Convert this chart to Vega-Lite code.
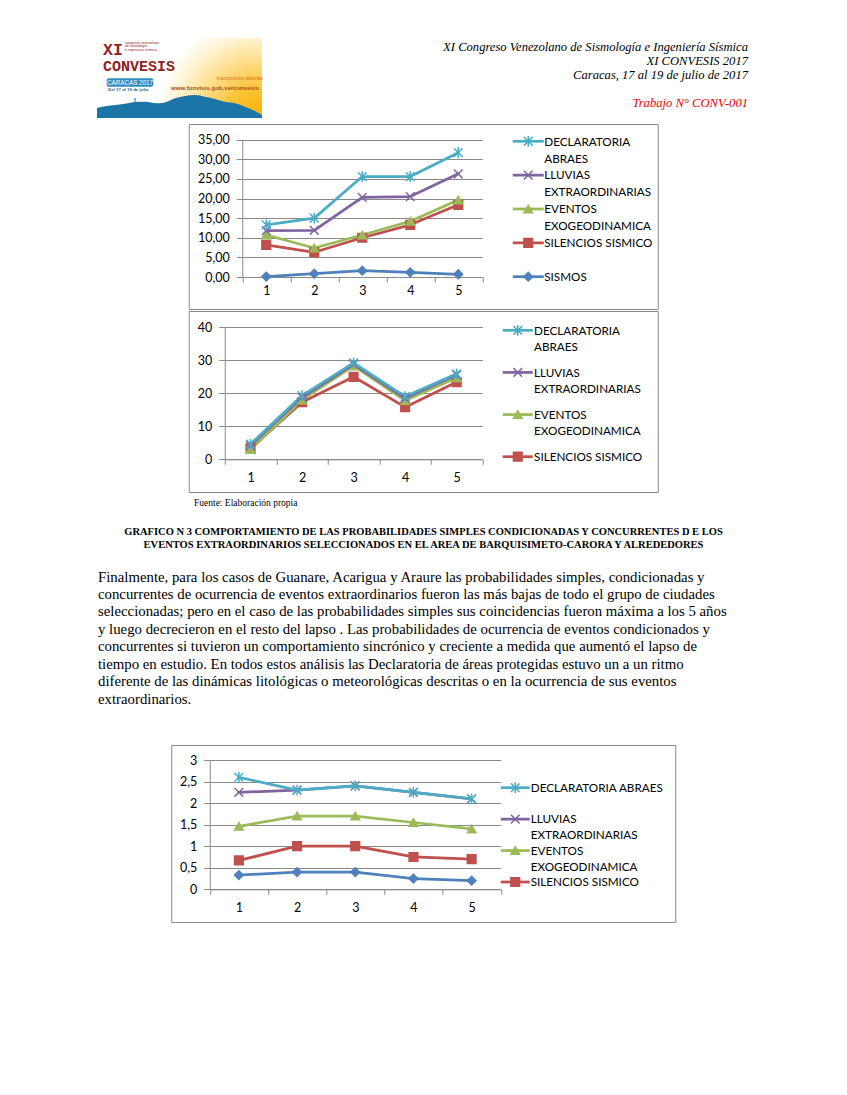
{
  "$schema": "https://vega.github.io/schema/vega-lite/v6.json",
  "background": "white",
  "padding": 0,
  "spacing": 0,
  "center": true,
  "config": {
    "view": {"stroke": null},
    "axis": {"domainColor": "#898989", "tickColor": "#898989", "gridColor": "#898989", "domainWidth": 1, "gridWidth": 1, "tickWidth": 1, "labelFont": "Lato", "labelFontSize": 12.5, "labelColor": "#000000", "title": null}
  },
  "vconcat": [
    {
      "width": 847,
      "height": 123,
      "layer": [
        {
          "layer": [
            {
              "data": {"values": [{"parte": "fondo"}]},
              "mark": {"type": "rect", "color": {"gradient": "radial", "x1": 0.96, "y1": 0.74, "r1": 0, "x2": 0.96, "y2": 0.74, "r2": 0.6, "stops": [{"offset": 0, "color": "#f5b000"}, {"offset": 0.3, "color": "#fac53a"}, {"offset": 0.55, "color": "#fddc85"}, {"offset": 0.8, "color": "#fff2cf"}, {"offset": 1, "color": "#ffffff"}]}},
              "encoding": {
                "x": {"datum": 0, "type": "quantitative", "scale": {"domain": [0, 165], "range": [97, 262], "nice": false}, "axis": null},
                "x2": {"datum": 165},
                "y": {"datum": 0, "type": "quantitative", "scale": {"domain": [0, 80], "range": [118, 38], "nice": false}, "axis": null},
                "y2": {"datum": 80}
              }
            },
            {
              "data": {"values": [
                {"d": 0, "alt": 9.5}, {"d": 1, "alt": 10.3}, {"d": 18, "alt": 13}, {"d": 31, "alt": 14.7}, {"d": 38, "alt": 16},
                {"d": 48, "alt": 16.3}, {"d": 60, "alt": 14.7}, {"d": 70, "alt": 16.3}, {"d": 78, "alt": 19.7}, {"d": 88, "alt": 22},
                {"d": 98, "alt": 23}, {"d": 108, "alt": 21.3}, {"d": 118, "alt": 19}, {"d": 128, "alt": 16.3}, {"d": 138, "alt": 14.7},
                {"d": 148, "alt": 11.3}, {"d": 158, "alt": 7}, {"d": 165, "alt": 3}
              ]},
              "mark": {"type": "area", "color": "#1b75a6", "interpolate": "monotone", "opacity": 1},
              "encoding": {
                "x": {"field": "d", "type": "quantitative", "scale": {"domain": [0, 165], "range": [97, 262], "nice": false}, "axis": null},
                "y": {"field": "alt", "type": "quantitative", "scale": {"domain": [0, 80], "range": [118, 38], "nice": false}, "axis": null},
                "y2": {"datum": 0}
              }
            },
            {
              "data": {"values": [{"parte": "antena"}]},
              "mark": {"type": "rule", "color": "#1b75a6", "strokeWidth": 1},
              "encoding": {
                "x": {"datum": 38, "type": "quantitative", "scale": {"domain": [0, 165], "range": [97, 262], "nice": false}, "axis": null},
                "y": {"datum": 15, "type": "quantitative", "scale": {"domain": [0, 80], "range": [118, 38], "nice": false}, "axis": null},
                "y2": {"datum": 20}
              }
            },
            {
              "data": {"values": [{"parte": "caja"}]},
              "mark": {"type": "rect", "color": "#2f8cbf", "cornerRadius": 2},
              "encoding": {
                "x": {"datum": 9.7, "type": "quantitative", "scale": {"domain": [0, 165], "range": [97, 262], "nice": false}, "axis": null},
                "x2": {"datum": 56.3},
                "y": {"datum": 31.3, "type": "quantitative", "scale": {"domain": [0, 80], "range": [118, 38], "nice": false}, "axis": null},
                "y2": {"datum": 39.7}
              }
            },
            {
              "data": {"values": [{"t": "CARACAS 2017"}]},
              "mark": {"type": "text", "align": "center", "baseline": "alphabetic", "font": "Liberation Sans", "fontSize": 6.3, "color": "#ffffff"},
              "encoding": {
                "x": {"datum": 33, "type": "quantitative", "scale": {"domain": [0, 165], "range": [97, 262], "nice": false}, "axis": null},
                "y": {"datum": 33.2, "type": "quantitative", "scale": {"domain": [0, 80], "range": [118, 38], "nice": false}, "axis": null},
                "text": {"field": "t"}
              }
            },
            {
              "data": {"values": [{"t": "XI"}]},
              "mark": {"type": "text", "align": "left", "baseline": "alphabetic", "font": "Liberation Mono", "fontWeight": "bold", "fontSize": 16.5, "color": "#8e2323"},
              "encoding": {
                "x": {"datum": 6, "type": "quantitative", "scale": {"domain": [0, 165], "range": [97, 262], "nice": false}, "axis": null},
                "y": {"datum": 63, "type": "quantitative", "scale": {"domain": [0, 80], "range": [118, 38], "nice": false}, "axis": null},
                "text": {"field": "t"}
              }
            },
            {
              "data": {"values": [{"t": "CONVESIS"}]},
              "mark": {"type": "text", "align": "left", "baseline": "alphabetic", "font": "Liberation Mono", "fontWeight": "bold", "fontSize": 15, "color": "#8e2323"},
              "encoding": {
                "x": {"datum": 6, "type": "quantitative", "scale": {"domain": [0, 165], "range": [97, 262], "nice": false}, "axis": null},
                "y": {"datum": 47, "type": "quantitative", "scale": {"domain": [0, 80], "range": [118, 38], "nice": false}, "axis": null},
                "text": {"field": "t"}
              }
            },
            {
              "data": {"values": [{"t": "congreso venezolano\nde sismología\ne ingeniería sísmica"}]},
              "mark": {"type": "text", "align": "left", "baseline": "alphabetic", "font": "Liberation Sans", "fontSize": 3.6, "lineBreak": "\n", "lineHeight": 3.7, "color": "#8e2323"},
              "encoding": {
                "x": {"datum": 28, "type": "quantitative", "scale": {"domain": [0, 165], "range": [97, 262], "nice": false}, "axis": null},
                "y": {"datum": 74.5, "type": "quantitative", "scale": {"domain": [0, 80], "range": [118, 38], "nice": false}, "axis": null},
                "text": {"field": "t"}
              }
            },
            {
              "data": {"values": [{"t": "Del 17 al 19 de julio"}]},
              "mark": {"type": "text", "align": "left", "baseline": "alphabetic", "font": "Liberation Sans", "fontWeight": "bold", "fontSize": 4.4, "color": "#1e5f8a"},
              "encoding": {
                "x": {"datum": 11, "type": "quantitative", "scale": {"domain": [0, 165], "range": [97, 262], "nice": false}, "axis": null},
                "y": {"datum": 27.5, "type": "quantitative", "scale": {"domain": [0, 80], "range": [118, 38], "nice": false}, "axis": null},
                "text": {"field": "t"}
              }
            },
            {
              "data": {"values": [{"t": "inscripciones abiertas"}]},
              "mark": {"type": "text", "align": "left", "baseline": "alphabetic", "font": "Liberation Sans", "fontSize": 4.8, "color": "#e0701c"},
              "encoding": {
                "x": {"datum": 119.7, "type": "quantitative", "scale": {"domain": [0, 165], "range": [97, 262], "nice": false}, "axis": null},
                "y": {"datum": 38.5, "type": "quantitative", "scale": {"domain": [0, 80], "range": [118, 38], "nice": false}, "axis": null},
                "text": {"field": "t"}
              }
            },
            {
              "data": {"values": [{"t": "www.funvisis.gob.ve/convesis"}]},
              "mark": {"type": "text", "align": "left", "baseline": "alphabetic", "font": "Liberation Sans", "fontWeight": "bold", "fontSize": 6.1, "color": "#a9521b"},
              "encoding": {
                "x": {"datum": 74, "type": "quantitative", "scale": {"domain": [0, 165], "range": [97, 262], "nice": false}, "axis": null},
                "y": {"datum": 28.5, "type": "quantitative", "scale": {"domain": [0, 80], "range": [118, 38], "nice": false}, "axis": null},
                "text": {"field": "t"}
              }
            }
          ]
        },
        {
          "data": {"values": [
            {"bloque": 0, "texto": "XI Congreso Venezolano de Sismología e Ingeniería Sísmica\nXI CONVESIS 2017\nCaracas, 17 al 19 de julio de 2017"},
            {"bloque": 1, "texto": "Trabajo N° CONV-001"}
          ]},
          "encoding": {
            "x": {"datum": 1, "type": "quantitative", "scale": {"domain": [0, 1], "range": [98, 748], "nice": false}, "axis": null},
            "y": {"field": "bloque", "type": "quantitative", "scale": {"domain": [0, 1], "range": [51, 107], "nice": false}, "axis": null},
            "text": {"field": "texto"}
          },
          "layer": [
            {"transform": [{"filter": "datum.bloque == 0"}], "mark": {"type": "text", "align": "right", "baseline": "alphabetic", "font": "Liberation Serif", "fontStyle": "italic", "fontSize": 12.6, "lineBreak": "\n", "lineHeight": 14, "color": "#000000"}},
            {"transform": [{"filter": "datum.bloque == 1"}], "mark": {"type": "text", "align": "right", "baseline": "alphabetic", "font": "Liberation Serif", "fontStyle": "italic", "fontSize": 12.6, "color": "#ee0000"}}
          ]
        }
      ],
      "resolve": {"scale": {"x": "independent", "y": "independent"}}
    },
    {
      "width": 469,
      "height": 185,
      "view": {"stroke": "#898989", "strokeWidth": 1},
      "layer": [
        {
          "data": {"values": [
            {"serie": "SISMOS", "t": 1, "v": 0.1}, {"serie": "SISMOS", "t": 2, "v": 0.85}, {"serie": "SISMOS", "t": 3, "v": 1.6}, {"serie": "SISMOS", "t": 4, "v": 1.2}, {"serie": "SISMOS", "t": 5, "v": 0.7},
            {"serie": "SILENCIOS SISMICO", "t": 1, "v": 8.2}, {"serie": "SILENCIOS SISMICO", "t": 2, "v": 6.3}, {"serie": "SILENCIOS SISMICO", "t": 3, "v": 10.0}, {"serie": "SILENCIOS SISMICO", "t": 4, "v": 13.3}, {"serie": "SILENCIOS SISMICO", "t": 5, "v": 18.4},
            {"serie": "EVENTOS EXOGEODINAMICA", "t": 1, "v": 10.7}, {"serie": "EVENTOS EXOGEODINAMICA", "t": 2, "v": 7.4}, {"serie": "EVENTOS EXOGEODINAMICA", "t": 3, "v": 10.7}, {"serie": "EVENTOS EXOGEODINAMICA", "t": 4, "v": 14.2}, {"serie": "EVENTOS EXOGEODINAMICA", "t": 5, "v": 19.6},
            {"serie": "LLUVIAS EXTRAORDINARIAS", "t": 1, "v": 11.8}, {"serie": "LLUVIAS EXTRAORDINARIAS", "t": 2, "v": 11.9}, {"serie": "LLUVIAS EXTRAORDINARIAS", "t": 3, "v": 20.3}, {"serie": "LLUVIAS EXTRAORDINARIAS", "t": 4, "v": 20.5}, {"serie": "LLUVIAS EXTRAORDINARIAS", "t": 5, "v": 26.3},
            {"serie": "DECLARATORIA ABRAES", "t": 1, "v": 13.3}, {"serie": "DECLARATORIA ABRAES", "t": 2, "v": 15.0}, {"serie": "DECLARATORIA ABRAES", "t": 3, "v": 25.6}, {"serie": "DECLARATORIA ABRAES", "t": 4, "v": 25.6}, {"serie": "DECLARATORIA ABRAES", "t": 5, "v": 31.7}
          ]},
          "encoding": {
            "x": {"field": "t", "type": "ordinal", "scale": {"type": "band", "range": [53.5, 293.5], "paddingInner": 0, "paddingOuter": 0}, "axis": {"orient": "bottom", "offset": -32, "tickBand": "extent", "tickSize": 5, "labelPadding": 2.6, "labelAngle": 0, "grid": false}},
            "y": {"field": "v", "type": "quantitative", "scale": {"domain": [0, 35], "range": [153, 15.7], "nice": false, "zero": false}, "axis": {"orient": "left", "offset": -53.5, "values": [0, 5, 10, 15, 20, 25, 30, 35], "labelExpr": "replace(format(datum.value, '.2f'), '.', ',')", "tickSize": 6, "labelPadding": 7, "grid": true}},
            "color": {"field": "serie", "type": "nominal", "scale": {"domain": ["DECLARATORIA ABRAES", "LLUVIAS EXTRAORDINARIAS", "EVENTOS EXOGEODINAMICA", "SILENCIOS SISMICO", "SISMOS"], "range": ["#4BACC6", "#8064A2", "#9BBB59", "#C0504D", "#4F81BD"]}, "legend": null}
          },
          "layer": [
            {"mark": {"type": "line", "strokeWidth": 2.75, "strokeCap": "round", "strokeJoin": "round"}},
            {"mark": {"type": "point", "filled": true, "size": 75, "strokeWidth": 1.5, "opacity": 1},
             "encoding": {
               "stroke": {"field": "serie", "type": "nominal", "scale": {"domain": ["DECLARATORIA ABRAES", "LLUVIAS EXTRAORDINARIAS", "EVENTOS EXOGEODINAMICA", "SILENCIOS SISMICO", "SISMOS"], "range": ["#4BACC6", "#8064A2", "#9BBB59", "#C0504D", "#4F81BD"]}, "legend": null},
               "shape": {"field": "serie", "type": "nominal", "scale": {"domain": ["DECLARATORIA ABRAES", "LLUVIAS EXTRAORDINARIAS", "EVENTOS EXOGEODINAMICA", "SILENCIOS SISMICO", "SISMOS"], "range": ["M-1,-1L1,1M-1,1L1,-1M0,-1.25L0,1.25", "M-1,-1L1,1M-1,1L1,-1", "triangle-up", "square", "diamond"]}, "legend": null}
             }}
          ]
        },
        {
          "data": {"values": [
            {"serie": "DECLARATORIA ABRAES", "etiqueta": "DECLARATORIA\nABRAES"},
            {"serie": "LLUVIAS EXTRAORDINARIAS", "etiqueta": "LLUVIAS\nEXTRAORDINARIAS"},
            {"serie": "EVENTOS EXOGEODINAMICA", "etiqueta": "EVENTOS\nEXOGEODINAMICA"},
            {"serie": "SILENCIOS SISMICO", "etiqueta": "SILENCIOS SISMICO"},
            {"serie": "SISMOS", "etiqueta": "SISMOS"}
          ]},
          "encoding": {
            "y": {"field": "serie", "type": "nominal", "scale": {"type": "point", "domain": ["DECLARATORIA ABRAES", "LLUVIAS EXTRAORDINARIAS", "EVENTOS EXOGEODINAMICA", "SILENCIOS SISMICO", "SISMOS"], "range": [17.3, 152.7], "padding": 0}, "axis": null}
          },
          "layer": [
            {"mark": {"type": "rule", "strokeWidth": 2.75},
             "encoding": {
               "x": {"datum": 0, "type": "quantitative", "scale": {"domain": [0, 1], "range": [324, 355], "nice": false}, "axis": null},
               "x2": {"datum": 1},
               "color": {"field": "serie", "type": "nominal", "legend": null}
             }},
            {"mark": {"type": "point", "filled": true, "size": 75, "strokeWidth": 1.5, "opacity": 1},
             "encoding": {
               "x": {"datum": 0.5, "type": "quantitative", "scale": {"domain": [0, 1], "range": [324, 355], "nice": false}, "axis": null},
               "color": {"field": "serie", "type": "nominal", "legend": null},
               "stroke": {"field": "serie", "type": "nominal", "legend": null},
               "shape": {"field": "serie", "type": "nominal", "legend": null}
             }},
            {"mark": {"type": "text", "align": "left", "baseline": "alphabetic", "dy": 4.2, "dx": 0.5, "font": "Lato", "fontSize": 11.7, "lineBreak": "\n", "lineHeight": 17, "color": "#000000"},
             "encoding": {
               "x": {"datum": 1, "type": "quantitative", "scale": {"domain": [0, 1], "range": [324, 355], "nice": false}, "axis": null},
               "text": {"field": "etiqueta"}
             }}
          ]
        }
      ],
      "resolve": {"scale": {"x": "independent", "y": "independent"}}
    },
    {
      "width": 469,
      "height": 181,
      "view": {"stroke": "#898989", "strokeWidth": 1},
      "layer": [
        {
          "data": {"values": [
            {"serie": "SILENCIOS SISMICO", "t": 1, "v": 3.3}, {"serie": "SILENCIOS SISMICO", "t": 2, "v": 17.3}, {"serie": "SILENCIOS SISMICO", "t": 3, "v": 25.0}, {"serie": "SILENCIOS SISMICO", "t": 4, "v": 15.8}, {"serie": "SILENCIOS SISMICO", "t": 5, "v": 23.4},
            {"serie": "EVENTOS EXOGEODINAMICA", "t": 1, "v": 3.0}, {"serie": "EVENTOS EXOGEODINAMICA", "t": 2, "v": 18.0}, {"serie": "EVENTOS EXOGEODINAMICA", "t": 3, "v": 28.3}, {"serie": "EVENTOS EXOGEODINAMICA", "t": 4, "v": 17.8}, {"serie": "EVENTOS EXOGEODINAMICA", "t": 5, "v": 24.7},
            {"serie": "LLUVIAS EXTRAORDINARIAS", "t": 1, "v": 4.2}, {"serie": "LLUVIAS EXTRAORDINARIAS", "t": 2, "v": 18.8}, {"serie": "LLUVIAS EXTRAORDINARIAS", "t": 3, "v": 28.8}, {"serie": "LLUVIAS EXTRAORDINARIAS", "t": 4, "v": 18.5}, {"serie": "LLUVIAS EXTRAORDINARIAS", "t": 5, "v": 25.6},
            {"serie": "DECLARATORIA ABRAES", "t": 1, "v": 4.6}, {"serie": "DECLARATORIA ABRAES", "t": 2, "v": 19.3}, {"serie": "DECLARATORIA ABRAES", "t": 3, "v": 29.2}, {"serie": "DECLARATORIA ABRAES", "t": 4, "v": 19.0}, {"serie": "DECLARATORIA ABRAES", "t": 5, "v": 25.9}
          ]},
          "encoding": {
            "x": {"field": "t", "type": "ordinal", "scale": {"type": "band", "range": [36, 293.7], "paddingInner": 0, "paddingOuter": 0}, "axis": {"orient": "bottom", "offset": -32.7, "tickBand": "extent", "tickSize": 5, "labelPadding": 7, "labelAngle": 0, "grid": false}},
            "y": {"field": "v", "type": "quantitative", "scale": {"domain": [0, 40], "range": [148.3, 16.3], "nice": false, "zero": false}, "axis": {"orient": "left", "offset": -36, "values": [0, 10, 20, 30, 40], "tickSize": 6, "labelPadding": 7, "grid": true}},
            "color": {"field": "serie", "type": "nominal", "scale": {"domain": ["DECLARATORIA ABRAES", "LLUVIAS EXTRAORDINARIAS", "EVENTOS EXOGEODINAMICA", "SILENCIOS SISMICO", "SISMOS"], "range": ["#4BACC6", "#8064A2", "#9BBB59", "#C0504D", "#4F81BD"]}, "legend": null}
          },
          "layer": [
            {"mark": {"type": "line", "strokeWidth": 2.75, "strokeCap": "round", "strokeJoin": "round"}},
            {"mark": {"type": "point", "filled": true, "size": 75, "strokeWidth": 1.5, "opacity": 1},
             "encoding": {
               "stroke": {"field": "serie", "type": "nominal", "scale": {"domain": ["DECLARATORIA ABRAES", "LLUVIAS EXTRAORDINARIAS", "EVENTOS EXOGEODINAMICA", "SILENCIOS SISMICO", "SISMOS"], "range": ["#4BACC6", "#8064A2", "#9BBB59", "#C0504D", "#4F81BD"]}, "legend": null},
               "shape": {"field": "serie", "type": "nominal", "scale": {"domain": ["DECLARATORIA ABRAES", "LLUVIAS EXTRAORDINARIAS", "EVENTOS EXOGEODINAMICA", "SILENCIOS SISMICO", "SISMOS"], "range": ["M-1,-1L1,1M-1,1L1,-1M0,-1.25L0,1.25", "M-1,-1L1,1M-1,1L1,-1", "triangle-up", "square", "diamond"]}, "legend": null}
             }}
          ]
        },
        {
          "data": {"values": [
            {"serie": "DECLARATORIA ABRAES", "etiqueta": "DECLARATORIA\nABRAES"},
            {"serie": "LLUVIAS EXTRAORDINARIAS", "etiqueta": "LLUVIAS\nEXTRAORDINARIAS"},
            {"serie": "EVENTOS EXOGEODINAMICA", "etiqueta": "EVENTOS\nEXOGEODINAMICA"},
            {"serie": "SILENCIOS SISMICO", "etiqueta": "SILENCIOS SISMICO"}
          ]},
          "encoding": {
            "y": {"field": "serie", "type": "nominal", "scale": {"type": "point", "domain": ["DECLARATORIA ABRAES", "LLUVIAS EXTRAORDINARIAS", "EVENTOS EXOGEODINAMICA", "SILENCIOS SISMICO"], "range": [19.3, 145.7], "padding": 0}, "axis": null}
          },
          "layer": [
            {"mark": {"type": "rule", "strokeWidth": 2.75},
             "encoding": {
               "x": {"datum": 0, "type": "quantitative", "scale": {"domain": [0, 1], "range": [314, 344], "nice": false}, "axis": null},
               "x2": {"datum": 1},
               "color": {"field": "serie", "type": "nominal", "legend": null}
             }},
            {"mark": {"type": "point", "filled": true, "size": 75, "strokeWidth": 1.5, "opacity": 1},
             "encoding": {
               "x": {"datum": 0.5, "type": "quantitative", "scale": {"domain": [0, 1], "range": [314, 344], "nice": false}, "axis": null},
               "color": {"field": "serie", "type": "nominal", "legend": null},
               "stroke": {"field": "serie", "type": "nominal", "legend": null},
               "shape": {"field": "serie", "type": "nominal", "legend": null}
             }},
            {"mark": {"type": "text", "align": "left", "baseline": "alphabetic", "dy": 4.2, "dx": 1.3, "font": "Lato", "fontSize": 11.7, "lineBreak": "\n", "lineHeight": 16.7, "color": "#000000"},
             "encoding": {
               "x": {"datum": 1, "type": "quantitative", "scale": {"domain": [0, 1], "range": [314, 344], "nice": false}, "axis": null},
               "text": {"field": "etiqueta"}
             }}
          ]
        }
      ],
      "resolve": {"scale": {"x": "independent", "y": "independent"}}
    },
    {
      "width": 847,
      "height": 251,
      "data": {"values": [
        {"bloque": 0, "texto": "Fuente: Elaboración propia"},
        {"bloque": 1, "texto": "GRAFICO N 3 COMPORTAMIENTO DE LAS PROBABILIDADES SIMPLES CONDICIONADAS Y CONCURRENTES D E LOS\nEVENTOS EXTRAORDINARIOS SELECCIONADOS EN EL AREA DE BARQUISIMETO-CARORA Y ALREDEDORES"},
        {"bloque": 2, "texto": "Finalmente, para los casos de Guanare, Acarigua y Araure las probabilidades simples, condicionadas y\nconcurrentes de ocurrencia de eventos extraordinarios fueron las más bajas de todo el grupo de ciudades\nseleccionadas; pero en el caso de las probabilidades simples sus coincidencias fueron máxima a los 5 años\ny luego decrecieron  en el resto del lapso . Las probabilidades de ocurrencia de eventos condicionados y\nconcurrentes si tuvieron un comportamiento sincrónico y creciente a medida que aumentó el lapso de\ntiempo en estudio. En todos estos análisis las Declaratoria de áreas protegidas estuvo un a un ritmo\ndiferente de las dinámicas litológicas o meteorológicas descritas o en la ocurrencia de sus eventos\nextraordinarios."}
      ]},
      "encoding": {
        "x": {"field": "bloque", "type": "quantitative", "scale": {"domain": [0, 1, 2], "range": [194, 423.5, 98], "nice": false, "zero": false}, "axis": null},
        "y": {"field": "bloque", "type": "quantitative", "scale": {"domain": [0, 1, 2], "range": [13, 42, 88.5], "nice": false, "zero": false}, "axis": null},
        "text": {"field": "texto"}
      },
      "layer": [
        {"transform": [{"filter": "datum.bloque == 0"}], "mark": {"type": "text", "align": "left", "baseline": "alphabetic", "font": "Liberation Serif", "fontSize": 9.5, "color": "#000000"}},
        {"transform": [{"filter": "datum.bloque == 1"}], "mark": {"type": "text", "align": "center", "baseline": "alphabetic", "font": "Liberation Serif", "fontWeight": "bold", "fontSize": 10.5, "lineBreak": "\n", "lineHeight": 13, "color": "#000000"}},
        {"transform": [{"filter": "datum.bloque == 2"}], "mark": {"type": "text", "align": "left", "baseline": "alphabetic", "font": "Liberation Serif", "fontSize": 14.8, "lineBreak": "\n", "lineHeight": 17.45, "color": "#000000"}}
      ]
    },
    {
      "width": 504,
      "height": 177,
      "view": {"stroke": "#898989", "strokeWidth": 1},
      "layer": [
        {
          "data": {"values": [
            {"serie": "SISMOS", "t": 1, "v": 0.33}, {"serie": "SISMOS", "t": 2, "v": 0.4}, {"serie": "SISMOS", "t": 3, "v": 0.4}, {"serie": "SISMOS", "t": 4, "v": 0.25}, {"serie": "SISMOS", "t": 5, "v": 0.2},
            {"serie": "SILENCIOS SISMICO", "t": 1, "v": 0.67}, {"serie": "SILENCIOS SISMICO", "t": 2, "v": 1.0}, {"serie": "SILENCIOS SISMICO", "t": 3, "v": 1.0}, {"serie": "SILENCIOS SISMICO", "t": 4, "v": 0.75}, {"serie": "SILENCIOS SISMICO", "t": 5, "v": 0.7},
            {"serie": "EVENTOS EXOGEODINAMICA", "t": 1, "v": 1.46}, {"serie": "EVENTOS EXOGEODINAMICA", "t": 2, "v": 1.7}, {"serie": "EVENTOS EXOGEODINAMICA", "t": 3, "v": 1.7}, {"serie": "EVENTOS EXOGEODINAMICA", "t": 4, "v": 1.55}, {"serie": "EVENTOS EXOGEODINAMICA", "t": 5, "v": 1.4},
            {"serie": "LLUVIAS EXTRAORDINARIAS", "t": 1, "v": 2.25}, {"serie": "LLUVIAS EXTRAORDINARIAS", "t": 2, "v": 2.3}, {"serie": "LLUVIAS EXTRAORDINARIAS", "t": 3, "v": 2.4}, {"serie": "LLUVIAS EXTRAORDINARIAS", "t": 4, "v": 2.25}, {"serie": "LLUVIAS EXTRAORDINARIAS", "t": 5, "v": 2.1},
            {"serie": "DECLARATORIA ABRAES", "t": 1, "v": 2.6}, {"serie": "DECLARATORIA ABRAES", "t": 2, "v": 2.3}, {"serie": "DECLARATORIA ABRAES", "t": 3, "v": 2.4}, {"serie": "DECLARATORIA ABRAES", "t": 4, "v": 2.25}, {"serie": "DECLARATORIA ABRAES", "t": 5, "v": 2.1}
          ]},
          "encoding": {
            "x": {"field": "t", "type": "ordinal", "scale": {"type": "band", "range": [38.5, 329.5], "paddingInner": 0, "paddingOuter": 0}, "axis": {"orient": "bottom", "offset": -32.7, "tickBand": "extent", "tickSize": 5, "labelPadding": 7, "labelAngle": 0, "grid": false}},
            "y": {"field": "v", "type": "quantitative", "scale": {"domain": [0, 3], "range": [144.3, 15], "nice": false, "zero": false}, "axis": {"orient": "left", "offset": -38.5, "values": [0, 0.5, 1, 1.5, 2, 2.5, 3], "labelExpr": "replace(toString(datum.value), '.', ',')", "tickSize": 6, "labelPadding": 7, "grid": true}},
            "color": {"field": "serie", "type": "nominal", "scale": {"domain": ["DECLARATORIA ABRAES", "LLUVIAS EXTRAORDINARIAS", "EVENTOS EXOGEODINAMICA", "SILENCIOS SISMICO", "SISMOS"], "range": ["#4BACC6", "#8064A2", "#9BBB59", "#C0504D", "#4F81BD"]}, "legend": null}
          },
          "layer": [
            {"mark": {"type": "line", "strokeWidth": 2.75, "strokeCap": "round", "strokeJoin": "round"}},
            {"mark": {"type": "point", "filled": true, "size": 75, "strokeWidth": 1.5, "opacity": 1},
             "encoding": {
               "stroke": {"field": "serie", "type": "nominal", "scale": {"domain": ["DECLARATORIA ABRAES", "LLUVIAS EXTRAORDINARIAS", "EVENTOS EXOGEODINAMICA", "SILENCIOS SISMICO", "SISMOS"], "range": ["#4BACC6", "#8064A2", "#9BBB59", "#C0504D", "#4F81BD"]}, "legend": null},
               "shape": {"field": "serie", "type": "nominal", "scale": {"domain": ["DECLARATORIA ABRAES", "LLUVIAS EXTRAORDINARIAS", "EVENTOS EXOGEODINAMICA", "SILENCIOS SISMICO", "SISMOS"], "range": ["M-1,-1L1,1M-1,1L1,-1M0,-1.25L0,1.25", "M-1,-1L1,1M-1,1L1,-1", "triangle-up", "square", "diamond"]}, "legend": null}
             }}
          ]
        },
        {
          "data": {"values": [
            {"serie": "DECLARATORIA ABRAES", "etiqueta": "DECLARATORIA ABRAES"},
            {"serie": "LLUVIAS EXTRAORDINARIAS", "etiqueta": "LLUVIAS\nEXTRAORDINARIAS"},
            {"serie": "EVENTOS EXOGEODINAMICA", "etiqueta": "EVENTOS\nEXOGEODINAMICA"},
            {"serie": "SILENCIOS SISMICO", "etiqueta": "SILENCIOS SISMICO"}
          ]},
          "encoding": {
            "y": {"field": "serie", "type": "nominal", "scale": {"type": "point", "domain": ["DECLARATORIA ABRAES", "LLUVIAS EXTRAORDINARIAS", "EVENTOS EXOGEODINAMICA", "SILENCIOS SISMICO"], "range": [42.7, 137], "padding": 0}, "axis": null}
          },
          "layer": [
            {"mark": {"type": "rule", "strokeWidth": 2.75},
             "encoding": {
               "x": {"datum": 0, "type": "quantitative", "scale": {"domain": [0, 1], "range": [329.5, 358.5], "nice": false}, "axis": null},
               "x2": {"datum": 1},
               "color": {"field": "serie", "type": "nominal", "legend": null}
             }},
            {"mark": {"type": "point", "filled": true, "size": 75, "strokeWidth": 1.5, "opacity": 1},
             "encoding": {
               "x": {"datum": 0.5, "type": "quantitative", "scale": {"domain": [0, 1], "range": [329.5, 358.5], "nice": false}, "axis": null},
               "color": {"field": "serie", "type": "nominal", "legend": null},
               "stroke": {"field": "serie", "type": "nominal", "legend": null},
               "shape": {"field": "serie", "type": "nominal", "legend": null}
             }},
            {"mark": {"type": "text", "align": "left", "baseline": "alphabetic", "dy": 4.2, "dx": 1, "font": "Lato", "fontSize": 11.7, "lineBreak": "\n", "lineHeight": 16, "color": "#000000"},
             "encoding": {
               "x": {"datum": 1, "type": "quantitative", "scale": {"domain": [0, 1], "range": [329.5, 358.5], "nice": false}, "axis": null},
               "text": {"field": "etiqueta"}
             }}
          ]
        }
      ],
      "resolve": {"scale": {"x": "independent", "y": "independent"}}
    }
  ]
}
